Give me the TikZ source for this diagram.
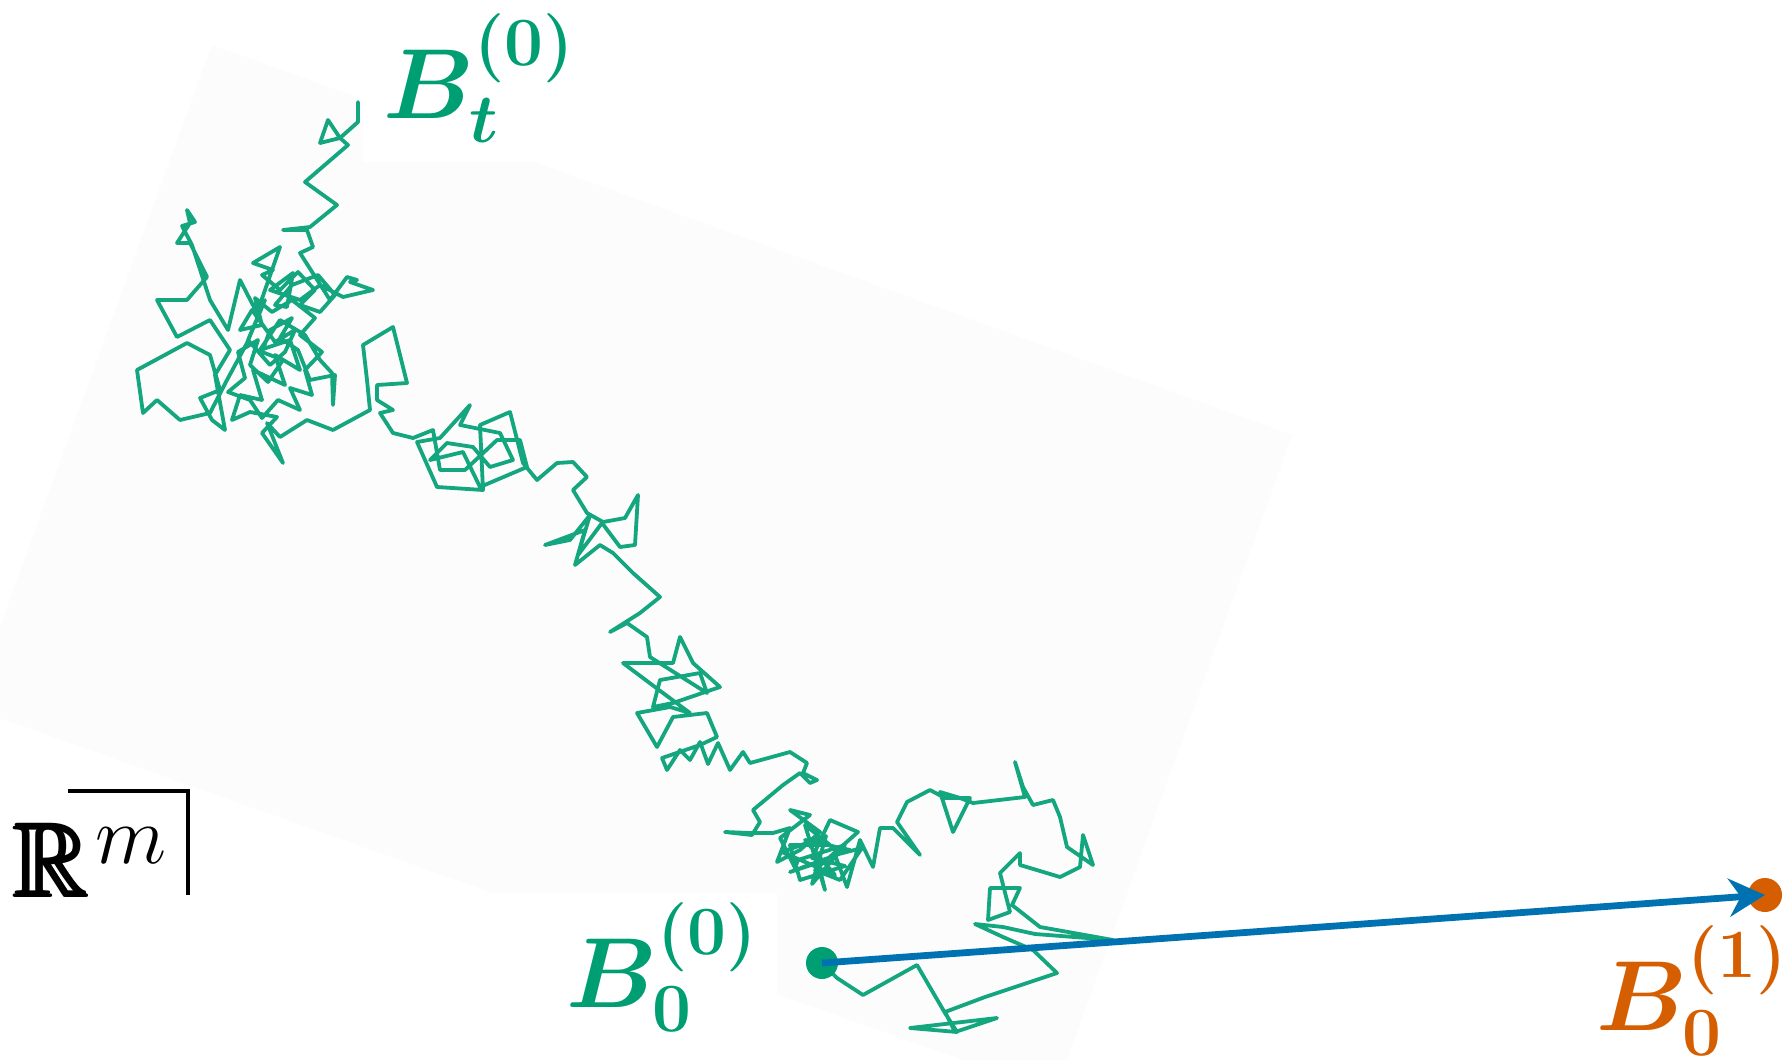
\documentclass[tikz,border=0pt]{standalone}
\usepackage{amsmath,amssymb}
\usetikzlibrary{arrows.meta}
\definecolor{wgreen}{HTML}{009E73}
\definecolor{worange}{HTML}{D55E00}
\definecolor{wblue}{HTML}{0072B2}
\definecolor{faintgray}{HTML}{FCFCFC}
\begin{document}
\begin{tikzpicture}[x=0.25pt,y=-0.25pt,
  walk/.style={draw=wgreen!92!white, line width=0.95pt, line join=round, line cap=round},
  gdot/.style={circle, fill=wgreen, minimum size=8pt, inner sep=0pt},
  odot/.style={circle, fill=worange, minimum size=8.5pt, inner sep=0pt},
  shiftline/.style={draw=wblue, line width=1.7pt, -{Stealth[length=9pt,width=9.5pt]}},
  lab/.style={anchor=base west, inner sep=0pt, outer sep=0pt},
  glab/.style={lab, text=wgreen, font=\fontsize{24.5}{29}\selectfont\boldmath},
  olab/.style={lab, text=worange, font=\fontsize{26}{31}\selectfont\boldmath}]
\useasboundingbox (0,0) rectangle (1788,1060);
\clip (0,0) rectangle (1788,1060);
\fill[white] (0,0) rectangle (1788,1060);
\fill[faintgray] (212,45) -- (362,99) -- (362,162) -- (534,162) -- (1292,435) -- (1067,1060) -- (963,1060) -- (777,994) -- (777,893) -- (493,893) -- (0,718) -- (0,627) -- cycle;

% Brownian path from B_0 to B_t
\draw[walk] (822,963) -- (837,978) -- (863,995) -- (917,965) -- (945,1013) -- (957,1032) -- (910,1028) -- (997,1018) -- (955,1032) -- (945,1012) -- (985,997) -- (1057,973) -- (1033,950) -- (1003,937) -- (975,924) -- (1003,927) -- (1035,934) -- (1113,940) -- (1040,927) -- (1012,905) -- (1020,888) -- (990,888) -- (988,920) -- (1010,912) -- (1000,873) -- (1020,853) -- (1020,865) -- (1060,877) -- (1080,867) -- (1083,835) -- (1093,865) -- (1067,847) -- (1060,817) -- (1053,800) -- (1033,805) -- (1023,787) -- (1015,762) -- (1025,797) -- (973,803) -- (960,798) -- (940,792) -- (953,832) -- (970,798) -- (945,798) -- (930,790) -- (907,802) -- (897,822) -- (920,855) -- (893,828) -- (880,828) -- (873,867) -- (860,840) -- (847,887)
 -- (835,855) -- (862,848) -- (840,880) -- (815,870) -- (858,832) -- (830,820) -- (812,858) -- (845,866) -- (800,880) -- (790,845) -- (830,845) -- (805,825) -- (825,890) -- (815,850) -- (820,862) -- (790,872) -- (850,850) -- (805,840) -- (835,875) -- (782,852) -- (826,836) -- (812,884) -- (845,845) -- (798,860) -- (795,868) -- (780,838) -- (810,815) -- (790,810) -- (820,832) -- (800,850) -- (777,862) -- (790,828) -- (773,833) -- (750,833) -- (725,832) -- (752,835) -- (760,822) -- (753,810) -- (783,785) -- (800,773) -- (810,783) -- (817,780) -- (803,773) -- (807,763) -- (790,752)
 -- (750,763) -- (743,752) -- (730,770) -- (718,743) -- (708,764) -- (700,742) -- (690,760) -- (680,750) -- (667,770) -- (662,758) -- (700,745) -- (717,737) -- (707,713) -- (673,717) -- (657,747) -- (637,713) -- (670,707) -- (690,713) -- (663,693) -- (623,663) -- (673,663) -- (680,637) -- (693,663) -- (720,687) -- (673,703) -- (653,707) -- (660,680) -- (700,673) -- (707,693) -- (650,657) -- (647,637) -- (627,623) -- (610,632) -- (640,613) -- (660,597) -- (633,573) -- (613,553) -- (600,545) -- (575,565) -- (585,530) -- (545,545) -- (570,540) -- (590,515) -- (578,555) -- (602,523) -- (620,547) -- (635,545) -- (638,495) -- (625,518) -- (603,522) -- (587,513) -- (573,490) -- (587,477) -- (573,462) -- (557,463) -- (537,480) -- (523,463)
 -- (510,412) -- (480,425) -- (483,490) -- (437,487) -- (417,442) -- (440,438) -- (470,405) -- (460,425) -- (500,433) -- (513,460) -- (490,467) -- (473,447) -- (447,443) -- (430,460) -- (463,452) -- (480,487) -- (527,467) -- (520,440) -- (497,440) -- (465,470) -- (440,470) -- (433,430) -- (413,438) -- (393,433) -- (380,413) -- (393,410) -- (377,400) -- (377,385) -- (407,383) -- (393,327) -- (363,345) -- (367,380) -- (370,410) -- (333,430) -- (307,420)
 -- (280,437) -- (267,423) -- (283,463) -- (262,433) -- (277,417) -- (250,412) -- (232,420) -- (240,395) -- (262,400) -- (253,370) -- (285,385) -- (275,355) -- (300,370) -- (290,340) -- (260,350) -- (280,320) -- (305,335) -- (320,360) -- (332,373) -- (333,405) -- (335,375) -- (310,380) -- (298,350)
 -- (280,338) -- (292,318) -- (270,330) -- (262,352) -- (283,360) -- (268,382) -- (250,365) -- (258,340) -- (238,352) -- (245,378) -- (228,392) -- (250,400) -- (262,418) -- (278,400) -- (300,410) -- (290,388) -- (312,395) -- (305,370) -- (322,352) -- (300,335) -- (315,318) -- (292,300) -- (272,312) -- (255,298) -- (262,325) -- (240,330) -- (252,310) -- (275,342) -- (295,330) -- (285,352)
 -- (270,365) -- (248,340) -- (265,300) -- (247,343) -- (227,380) -- (210,413) -- (180,420) -- (157,400) -- (143,413) -- (137,370) -- (187,343) -- (210,355) -- (220,390) -- (200,398) -- (212,420) -- (225,430) -- (215,375) -- (230,350) -- (210,320) -- (177,337) -- (157,300) -- (187,300) -- (193,293) -- (207,277) -- (190,243) -- (177,243) -- (190,223) -- (187,210) -- (195,222) -- (182,226) -- (192,245) -- (210,300) -- (228,330) -- (240,280) -- (257,313) -- (280,247) -- (253,263) -- (273,270)
 -- (262,275) -- (280,290) -- (298,272) -- (315,290) -- (300,305) -- (320,312) -- (335,295) -- (318,275) -- (292,285) -- (275,305)
 -- (287,307) -- (293,273) -- (270,290) -- (300,300) -- (320,285) -- (343,297) -- (373,290) -- (350,282) -- (357,280) -- (347,277) -- (330,300) -- (300,253) -- (313,247) -- (307,230) -- (283,230) -- (310,227) -- (337,205) -- (305,182) -- (348,145) -- (340,138) -- (320,143) -- (328,120) -- (340,138) -- (358,122) -- (358,102);

% start and end points, shift arrow
\node[gdot] (B00) at (822,963) {};
\node[odot] (B01) at (1765,895) {};
\draw[shiftline] (B00.center) -- (B01.center);

% labels
\node[glab] (LBt) at (383,118) {$B_t^{(0)}$};
\node[glab] (LB00) at (566,1007) {$B_0^{(0)}$};
\node[olab] (LB01) at (1596,1030) {$B_0^{(1)}$};
\node[lab, font=\fontsize{26}{31}\selectfont] (LRm) at (16,897) {$\pmb{\mathbb{R}}$\kern1pt\raisebox{8.5pt}{\fontsize{22}{26}\selectfont$m$}};
\draw[line width=1pt] (68,791) -| (188,895);
\end{tikzpicture}
\end{document}
